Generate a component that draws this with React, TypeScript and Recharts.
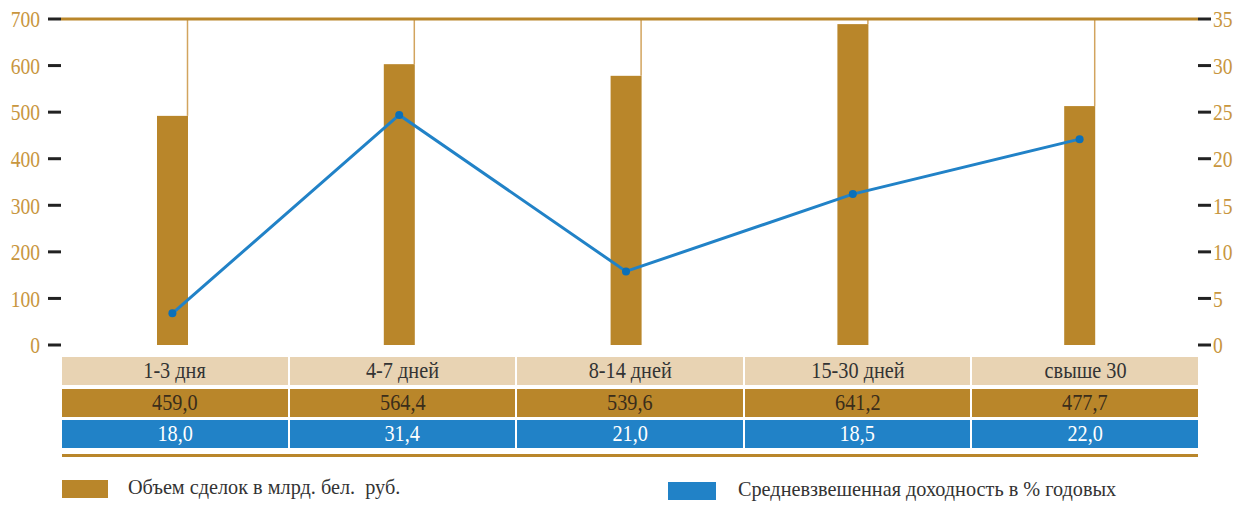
import React from 'react';
import { ComposedChart, Bar, Line, XAxis, YAxis, ReferenceLine } from 'recharts';

const categories = ['1-3 дня', '4-7 дней', '8-14 дней', '15-30 дней', 'свыше 30'];
const volumeBars = [492, 603, 578, 689, 513];
const yieldLine = [3.4, 24.7, 7.9, 16.2, 22.1];
const volumeTable = ['459,0', '564,4', '539,6', '641,2', '477,7'];
const yieldTable = ['18,0', '31,4', '21,0', '18,5', '22,0'];
const leftTicks = [0, 100, 200, 300, 400, 500, 600, 700];
const rightTicks = [0, 5, 10, 15, 20, 25, 30, 35];
const volumeLabel = 'Объем сделок в млрд. бел.  руб.';
const yieldLabel = 'Средневзвешенная доходность в % годовых';

const data = categories.map((c, i) => ({ cat: c, vol: volumeBars[i], yld: yieldLine[i] }));

const GOLD = '#b9862a';
const BLUE = '#2182c7';
const BEIGE = '#e8d3b3';
const AXIS_TEXT = '#c8963e';
const FONT = '"Liberation Serif", "Times New Roman", serif';
const TOP = 19;

const BarWithDrop = (props: any) => {
  const { x, y, width, height } = props;
  return (
    <g>
      <rect x={x} y={y} width={width} height={height} fill={GOLD} />
      <line x1={x + width - 0.5} x2={x + width - 0.5} y1={TOP} y2={y} stroke="#d2a45e" strokeWidth={1.5} />
    </g>
  );
};

const makeTick = (anchor: 'start' | 'end') => (props: any) => {
  const { x, y, payload } = props;
  return (
    <g transform={`translate(${x},${y}) scale(0.85,1)`}>
      <text x={0} y={0} dy="0.36em" textAnchor={anchor} fill={AXIS_TEXT} fontSize={23} style={{ fontFamily: FONT }}>
        {payload.value}
      </text>
    </g>
  );
};
const LeftTick = makeTick('end');
const RightTick = makeTick('start');

const cellBase: React.CSSProperties = {
  flex: 1,
  height: 28,
  display: 'flex',
  alignItems: 'center',
  justifyContent: 'center',
  fontFamily: FONT,
  fontSize: 23,
  overflow: 'hidden',
};
const cellText: React.CSSProperties = {
  display: 'inline-block',
  transform: 'scaleX(0.88)',
  lineHeight: '28px',
  whiteSpace: 'pre',
};

export default function App() {
  return (
    <div style={{ position: 'absolute', left: 0, top: 0, width: 1242, height: 505, background: '#fff' }}>
      <ComposedChart
        width={1242}
        height={505}
        data={data}
        margin={{ top: TOP, right: 0, bottom: 160, left: 0 }}
        barSize={31}
      >
        <XAxis dataKey="cat" hide padding={{ left: -2, right: 5 }} />
        <YAxis
          yAxisId="left"
          orientation="left"
          width={61}
          domain={[0, 700]}
          ticks={leftTicks}
          axisLine={false}
          tickLine={{ stroke: '#222', strokeWidth: 3 }}
          tickSize={13}
          tickMargin={8}
          tick={<LeftTick />}
        />
        <YAxis
          yAxisId="right"
          orientation="right"
          width={44}
          domain={[0, 35]}
          ticks={rightTicks}
          axisLine={false}
          tickLine={{ stroke: '#222', strokeWidth: 3 }}
          tickSize={13}
          tickMargin={2}
          tick={<RightTick />}
        />
        <ReferenceLine yAxisId="left" y={700} stroke={GOLD} strokeWidth={3} />
        <Bar yAxisId="left" dataKey="vol" fill={GOLD} shape={<BarWithDrop />} isAnimationActive={false} />
        <Line
          yAxisId="right"
          dataKey="yld"
          stroke={BLUE}
          strokeWidth={3}
          dot={{ r: 4, fill: '#0b70b9', stroke: '#0b70b9', strokeWidth: 0 }}
          isAnimationActive={false}
        />
      </ComposedChart>

      <div style={{ position: 'absolute', left: 62, top: 357, width: 1136 }}>
        <div style={{ display: 'flex', gap: 2 }}>
          {categories.map((c) => (
            <div key={c} style={{ ...cellBase, background: BEIGE, color: '#333' }}>
              <span style={cellText}>{c}</span>
            </div>
          ))}
        </div>
        <div style={{ display: 'flex', gap: 2, marginTop: 4 }}>
          {volumeTable.map((v, i) => (
            <div key={i} style={{ ...cellBase, background: GOLD, color: '#3a2d1a' }}>
              <span style={cellText}>{v}</span>
            </div>
          ))}
        </div>
        <div style={{ display: 'flex', gap: 2, marginTop: 3 }}>
          {yieldTable.map((v, i) => (
            <div key={i} style={{ ...cellBase, background: BLUE, color: '#fff' }}>
              <span style={cellText}>{v}</span>
            </div>
          ))}
        </div>
        <div style={{ height: 3, background: GOLD, marginTop: 6 }} />
      </div>

      <div style={{ position: 'absolute', left: 62, top: 480, width: 46, height: 18, background: GOLD }} />
      <div
        style={{
          position: 'absolute', left: 128, top: 474, fontFamily: FONT, fontSize: 22, lineHeight: '26px',
          color: '#333', whiteSpace: 'pre', transform: 'scaleX(0.92)', transformOrigin: 'left center',
        }}
      >
        {volumeLabel}
      </div>
      <div style={{ position: 'absolute', left: 668, top: 482, width: 48, height: 18, background: BLUE }} />
      <div
        style={{
          position: 'absolute', left: 738, top: 476, fontFamily: FONT, fontSize: 22, lineHeight: '26px',
          color: '#333', whiteSpace: 'pre', transform: 'scaleX(0.92)', transformOrigin: 'left center',
        }}
      >
        {yieldLabel}
      </div>
    </div>
  );
}
